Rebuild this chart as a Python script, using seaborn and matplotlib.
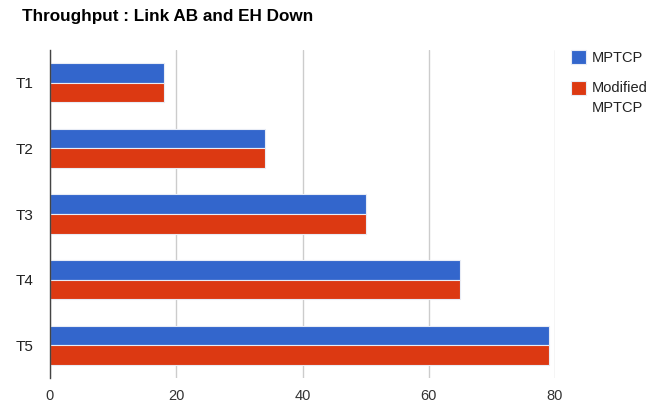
import matplotlib
matplotlib.use("Agg")
import matplotlib.pyplot as plt
from matplotlib.patches import Rectangle
from matplotlib.legend_handler import HandlerPatch
import seaborn as sns
import pandas as pd

categories = ["T1", "T2", "T3", "T4", "T5"]
series_names = ["MPTCP", "Modified\nMPTCP"]
mptcp = [18, 34, 50, 65, 79]
modified_mptcp = [18, 34, 50, 65, 79]
x_ticks = [0, 20, 40, 60, 80]
colors = ["#3366cc", "#dc3912"]

df = pd.DataFrame({
    "task": categories * 2,
    "value": mptcp + modified_mptcp,
    "series": [series_names[0]] * len(categories) + [series_names[1]] * len(categories),
})

sns.set_style("white")
plt.rcParams["font.family"] = ["Liberation Sans", "DejaVu Sans"]

fig = plt.figure(figsize=(6.56, 4.07), dpi=100)
ax = fig.add_axes([50 / 656, 1 - 378 / 407, (555 - 50) / 656, (378 - 50) / 407])

sns.barplot(data=df, y="task", x="value", hue="series", order=categories,
            hue_order=series_names, palette=colors, orient="h", width=0.6,
            saturation=1, edgecolor="#e8ecf5", linewidth=0.8, ax=ax, legend=True)

ax.set_xlim(0, 80)
ax.set_xticks(x_ticks)
ax.set_xlabel("")
ax.set_ylabel("")
ax.grid(axis="x", color="#cccccc", linewidth=1)
ax.set_axisbelow(True)
for s in ["top", "right", "bottom"]:
    ax.spines[s].set_visible(False)
ax.spines["left"].set_color("#444444")
ax.spines["left"].set_linewidth(1)
ax.tick_params(axis="x", length=0, labelsize=10.5, colors="#333333", pad=8)
ax.tick_params(axis="y", length=0, labelsize=11, colors="#222222", pad=12)


def top_aligned_square(legend, orig_handle, xdescent, ydescent, width, height, fontsize):
    # put the swatch next to the first line of a two-line label
    return Rectangle((-xdescent, -ydescent + 0.72 * fontsize), width, height)


handles, labels = ax.get_legend_handles_labels()
ax.get_legend().remove()
leg = ax.legend(handles, labels, loc="upper left",
                bbox_to_anchor=(571 / 656, 1 - 50 / 407),
                bbox_transform=fig.transFigure, frameon=False, fontsize=10.5,
                handlelength=1.05, handleheight=1.05, handletextpad=0.4,
                labelspacing=1.1, borderaxespad=0, borderpad=0,
                handler_map={handles[1]: HandlerPatch(patch_func=top_aligned_square)})
for t in leg.get_texts():
    t.set_color("#222222")
    t.set_linespacing(1.6)

fig.text(22 / 656, 1 - 16 / 407, "Throughput : Link AB and EH Down",
         fontsize=12.3, fontweight="bold", color="#000000", va="center", ha="left")

fig.savefig("out.png", dpi=100)
